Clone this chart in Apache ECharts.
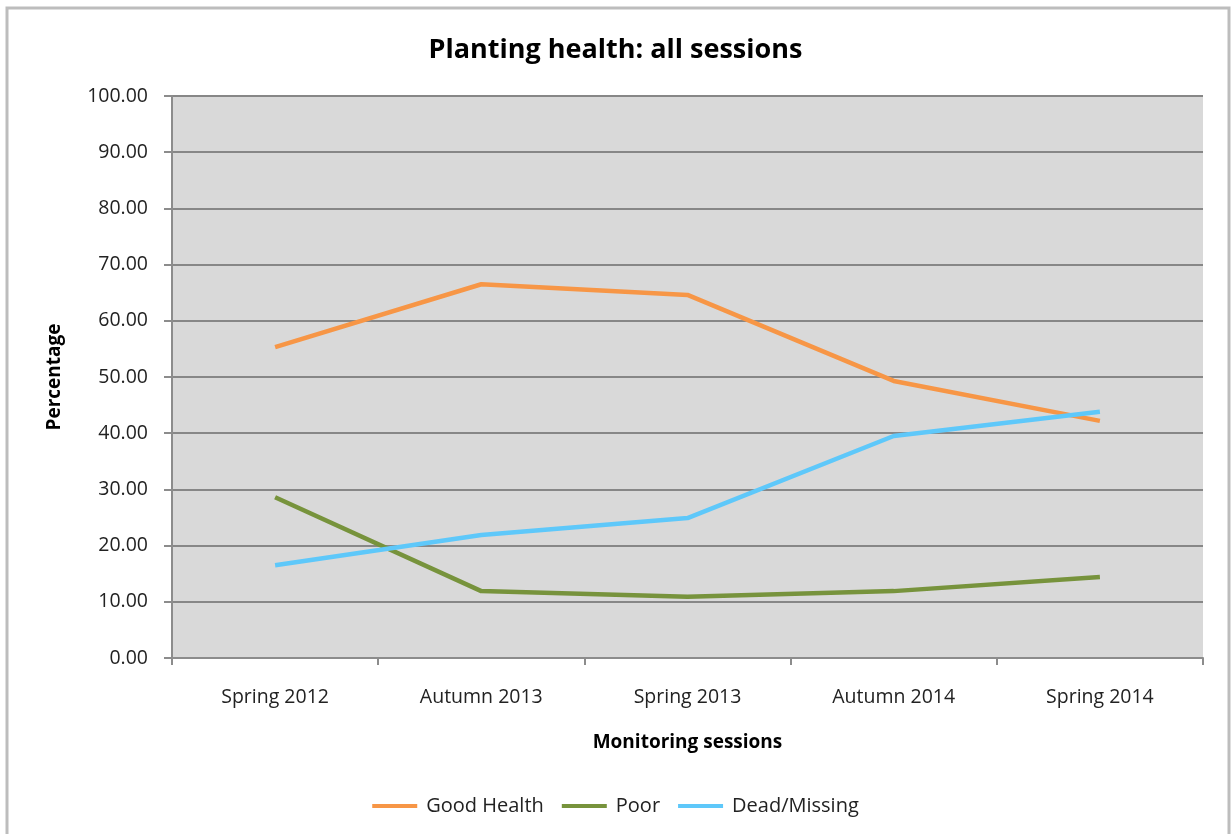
<!DOCTYPE html>
<html><head><meta charset="utf-8">
<script src="https://cdn.jsdelivr.net/npm/echarts@6/dist/echarts.min.js"></script>
<style>html,body{margin:0;padding:0;background:#fff}#c{width:1231px;height:834px}</style>
</head><body><div id="c"></div>
<script>
var categories = ['Spring 2012', 'Autumn 2013', 'Spring 2013', 'Autumn 2014', 'Spring 2014'];
var goodHealth = [55.3, 66.5, 64.6, 49.3, 42.2];
var poor = [28.6, 11.9, 10.9, 11.9, 14.4];
var deadMissing = [16.5, 21.9, 24.9, 39.5, 43.8];
var seriesNames = ['Good Health', 'Poor', 'Dead/Missing'];
var yTicks = { min: 0, max: 100, interval: 10 };

var FONT = '"Open Sans", "Liberation Sans", sans-serif';
var colors = ['#f79646', '#77933c', '#5ec8fa'];
var chart = echarts.init(document.getElementById('c'), null, { renderer: 'canvas' });
function mk(name, data, color) {
  return {
    name: name, type: 'line', data: data, symbol: 'none', smooth: false,
    lineStyle: { color: color, width: 4.5 }, itemStyle: { color: color }
  };
}
chart.setOption({
  animation: false,
  backgroundColor: '#ffffff',
  color: colors,
  graphic: [{
    type: 'rect', shape: { x: 7, y: 8, width: 1222, height: 840 },
    style: { fill: 'none', stroke: '#bdbdbd', lineWidth: 3 }, z: -10
  }],
  title: {
    text: 'Planting health: all sessions', left: 'center', top: 32,
    textStyle: { fontFamily: FONT, fontSize: 27, fontWeight: 'bold', color: '#000' }
  },
  grid: { left: 172, right: 28, top: 96, bottom: 176, show: true, backgroundColor: '#d9d9d9', borderWidth: 0 },
  legend: {
    bottom: 13, left: 'center', icon: 'rect', itemWidth: 45, itemHeight: 4, itemGap: 18,
    textStyle: { fontFamily: FONT, fontSize: 20, color: '#222', padding: [0, 0, 0, 4] },
    data: seriesNames
  },
  xAxis: {
    type: 'category', data: categories, boundaryGap: true,
    name: 'Monitoring sessions', nameLocation: 'middle', nameGap: 75,
    nameTextStyle: { fontFamily: FONT, fontSize: 19, fontWeight: 'bold', color: '#000' },
    axisLine: { lineStyle: { color: '#8c8c8c', width: 2 } },
    axisTick: { show: true, length: 7, alignWithLabel: false, lineStyle: { color: '#8c8c8c', width: 2 } },
    axisLabel: { fontFamily: FONT, fontSize: 19.5, color: '#222', margin: 29 },
    splitLine: { show: false }
  },
  yAxis: {
    type: 'value', min: yTicks.min, max: yTicks.max, interval: yTicks.interval,
    name: 'Percentage', nameLocation: 'middle', nameGap: 108, nameRotate: 90,
    nameTextStyle: { fontFamily: FONT, fontSize: 19, fontWeight: 'bold', color: '#000' },
    axisLine: { show: true, lineStyle: { color: '#8c8c8c', width: 2 } },
    axisTick: { show: true, length: 8, lineStyle: { color: '#8c8c8c', width: 2 } },
    axisLabel: { fontFamily: FONT, fontSize: 19.5, color: '#222', margin: 24,
      formatter: function (v) { return v.toFixed(2); } },
    splitLine: { show: true, lineStyle: { color: '#878787', width: 2 } }
  },
  series: [
    mk(seriesNames[0], goodHealth, colors[0]),
    mk(seriesNames[1], poor, colors[1]),
    mk(seriesNames[2], deadMissing, colors[2])
  ]
});
</script></body></html>
